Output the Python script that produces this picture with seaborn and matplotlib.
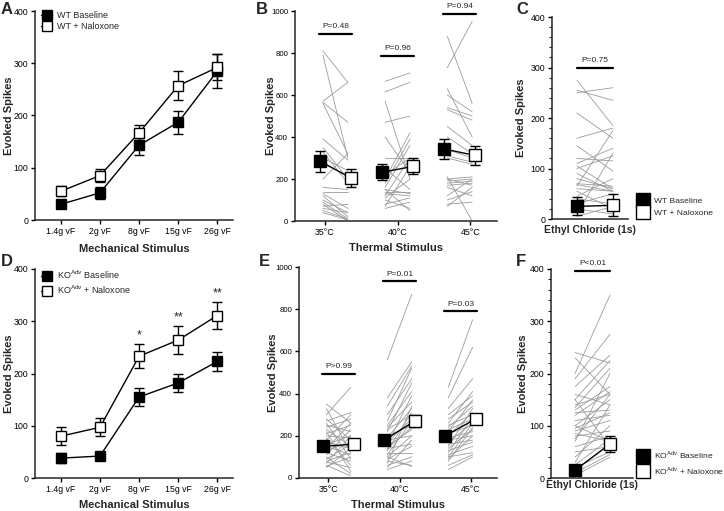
import pandas as pd
import matplotlib
matplotlib.use('Agg')
import matplotlib.pyplot as plt
import seaborn as sns
from matplotlib.lines import Line2D

sns.set_style('ticks')
plt.rcParams['font.family'] = ['Liberation Sans', 'DejaVu Sans']

# ---- mechanical (A, D)
mech_labels = ['1.4g vF', '2g vF', '8g vF', '15g vF', '26g vF']
wt_mech_base = [30, 52, 143, 187, 285]
wt_mech_base_sem = [7, 12, 18, 22, 32]
wt_mech_nal = [55, 85, 167, 257, 292]
wt_mech_nal_sem = [10, 13, 14, 28, 25]
ko_mech_base = [38, 42, 155, 182, 223]
ko_mech_base_sem = [9, 6, 17, 17, 18]
ko_mech_nal = [80, 97, 233, 264, 311]
ko_mech_nal_sem = [17, 17, 23, 26, 25]
ko_stars = ['', '', '*', '**', '**']
ko_star_y = [0, 0, 262, 296, 341]

# ---- thermal (B, E)
temps = ['35°C', '40°C', '45°C']
wt_th_base = [285, 232, 343]
wt_th_base_sem = [50, 38, 48]
wt_th_nal = [205, 260, 312]
wt_th_nal_sem = [42, 38, 43]
wt_th_p = ['P=0.48', 'P=0.96', 'P=0.94']
wt_th_p_y = [890, 785, 985]
ko_th_base = [150, 180, 200]
ko_th_base_sem = [18, 15, 15]
ko_th_nal = [160, 270, 280]
ko_th_nal_sem = [20, 28, 25]
ko_th_p = ['P>0.99', 'P=0.01', 'P=0.03']
ko_th_p_y = [495, 932, 790]

# individual cells, baseline -> naloxone
wt35_b = [810, 570, 565, 560, 790, 390, 350, 330, 300, 200, 160, 140, 130, 120, 100, 90, 80, 70, 60, 50, 40]
wt35_n = [660, 660, 470, 320, 300, 290, 200, 180, 240, 320, 150, 140, 60, 20, 40, 10, 0, 80, 40, 10, 5]
wt40_b = [665, 615, 470, 570, 400, 300, 250, 200, 180, 160, 150, 140, 130, 120, 110, 100, 80, 70, 60, 150, 220]
wt40_n = [705, 660, 500, 200, 230, 300, 150, 420, 390, 360, 130, 140, 120, 300, 200, 60, 110, 260, 90, 50, 300]
wt45_b = [880, 730, 630, 600, 540, 530, 450, 400, 340, 310, 300, 200, 190, 180, 200, 170, 160, 120, 100, 80, 210, 70]
wt45_n = [560, 950, 400, 520, 500, 480, 360, 320, 300, 280, 270, 210, 200, 190, 170, 180, 120, 200, 140, 90, 0, 160]
ko35_b = [350, 330, 300, 280, 270, 260, 250, 240, 230, 220, 210, 200, 190, 180, 170, 160, 150, 140, 130, 120, 110, 100, 90, 80, 75, 70, 60, 55, 50]
ko35_n = [260, 120, 430, 180, 310, 90, 220, 280, 150, 30, 250, 190, 60, 300, 140, 200, 110, 260, 170, 80, 230, 20, 160, 120, 50, 200, 10, 100, 140]
ko40_b = [560, 380, 340, 300, 270, 250, 240, 230, 220, 200, 190, 180, 170, 160, 150, 140, 130, 120, 110, 100, 90, 80, 70, 60, 50, 40, 100, 140]
ko40_n = [870, 550, 530, 470, 520, 410, 360, 300, 450, 250, 330, 200, 280, 390, 230, 160, 310, 120, 270, 200, 150, 60, 340, 100, 180, 80, 55, 240]
ko45_b = [430, 380, 330, 300, 280, 260, 250, 240, 230, 220, 210, 200, 190, 180, 170, 160, 150, 140, 130, 120, 110, 100, 90, 80, 60, 40, 100]
ko45_n = [750, 620, 470, 390, 360, 410, 300, 340, 280, 370, 250, 310, 220, 200, 260, 180, 330, 230, 170, 290, 150, 120, 200, 240, 110, 100, 260]

# ---- ethyl chloride (C, F)
wt_ec_b = [275, 255, 250, 210, 160, 145, 120, 110, 105, 100, 90, 80, 70, 68, 65, 60, 55, 45, 40, 30, 20, 10, 5]
wt_ec_n = [185, 235, 260, 160, 180, 95, 115, 140, 60, 125, 55, 60, 65, 55, 175, 55, 20, 80, 30, 50, 10, 130, 25]
wt_ec_mean = [25, 27]
wt_ec_sem = [18, 22]
ko_ec_b = [240, 230, 200, 190, 175, 160, 150, 140, 135, 130, 125, 120, 110, 100, 95, 90, 85, 80, 75, 70, 60, 50, 40, 30, 25, 20, 10, 5, 100, 150]
ko_ec_n = [220, 160, 350, 275, 235, 140, 225, 160, 210, 175, 130, 165, 120, 150, 125, 110, 70, 90, 160, 200, 80, 60, 100, 140, 75, 50, 45, 40, 70, 60]
ko_ec_mean = [15, 65]
ko_ec_sem = [10, 15]

W, H = 724, 511
fig = plt.figure(figsize=(W / 100, H / 100), dpi=100)


def px_axes(x0, y0, x1, y1):
    ax = fig.add_axes([x0 / W, 1 - y1 / H, (x1 - x0) / W, (y1 - y0) / H])
    ax.px = (x0, y0, x1, y1)
    return ax


def style(ax, ylab_x, tick_size=6.3):
    sns.despine(ax=ax)
    for s in ['left', 'bottom']:
        ax.spines[s].set_linewidth(1.1)
    ax.tick_params(axis='both', labelsize=tick_size, width=1.0, length=3, colors='black', pad=2)
    ax.set_ylabel('Evoked Spikes', fontsize=8, fontweight='bold')
    x0, y0, x1, y1 = ax.px
    ax.yaxis.set_label_coords((ylab_x - x0) / (x1 - x0), 0.5)
    ax.yaxis.label.set_va('center')


def xlab(ax, txt, y_px, size=8):
    ax.set_xlabel(txt, fontsize=size, fontweight='bold')
    x0, y0, x1, y1 = ax.px
    ax.xaxis.set_label_coords(0.5, -(y_px - y1) / (y1 - y0))
    ax.xaxis.label.set_va('center')


def means(ax, x, y, e, filled, ms=7.5):
    ax.errorbar(x, y, yerr=e, fmt='s', ms=ms, mfc='black' if filled else 'white',
                mec='black', mew=1.0, ecolor='black', elinewidth=1.0, capsize=3.5,
                capthick=1.0, zorder=5)


def pairs(ax, b, n, x0, x1):
    df = pd.DataFrame({'unit': list(range(len(b))) * 2,
                       'x': [x0] * len(b) + [x1] * len(n),
                       'y': list(b) + list(n)})
    sns.lineplot(data=df, x='x', y='y', units='unit', estimator=None, color='#9b9b9b',
                 lw=0.6, ax=ax, legend=False, zorder=1)


def pbar(ax, xc, y, txt, half=0.27):
    ax.plot([xc - half, xc + half], [y, y], color='black', lw=1.6, zorder=6,
            clip_on=False)
    ax.text(xc, y + ax.get_ylim()[1] * 0.018, txt, ha='center', va='bottom', fontsize=6)


# ---- A / D
def mech_panel(ax, base, bsem, nal, nsem, labels, xlab_y):
    xs = list(range(len(mech_labels)))
    dfm = pd.DataFrame({'x': xs * 2, 'y': base + nal, 'g': ['b'] * 5 + ['n'] * 5})
    sns.lineplot(data=dfm, x='x', y='y', units='g', estimator=None, color='black', lw=1.0,
                 ax=ax, legend=False, zorder=3)
    means(ax, xs, base, bsem, True, ms=7)
    means(ax, xs, nal, nsem, False, ms=7)
    ax.set_xlim(-0.66, 4.4)
    ax.set_ylim(0, 400)
    ax.set_yticks([0, 100, 200, 300, 400])
    ax.set_xticks(xs)
    ax.set_xticklabels(mech_labels)
    style(ax, 9)
    xlab(ax, 'Mechanical Stimulus', xlab_y)
    h = [Line2D([], [], color='black', lw=1, marker='s', ms=6.5, mfc='black', mec='black'),
         Line2D([], [], color='black', lw=1, marker='s', ms=6.5, mfc='white', mec='black')]
    ax.legend(h, labels, loc='upper left', bbox_to_anchor=(0.0, 1.03), frameon=False,
              fontsize=6.5, handlelength=1.2, handletextpad=0.5, labelspacing=0.25, borderpad=0.2)


axA = px_axes(35, 11, 233, 220)
mech_panel(axA, wt_mech_base, wt_mech_base_sem, wt_mech_nal, wt_mech_nal_sem,
           ['WT Baseline', 'WT + Naloxone'], 249)
axD = px_axes(35, 269, 233, 478)
mech_panel(axD, ko_mech_base, ko_mech_base_sem, ko_mech_nal, ko_mech_nal_sem,
           [r'KO$^{\mathregular{Adv}}$ Baseline', r'KO$^{\mathregular{Adv}}$ + Naloxone'], 505)
for i, s in enumerate(ko_stars):
    if s:
        axD.text(i, ko_star_y[i], s, ha='center', va='bottom', fontsize=9)


# ---- B / E
def therm_panel(ax, cells, base, bsem, nal, nsem, ptxt, py, ylab_x, xlab_y):
    for g, (b, n) in enumerate(cells):
        pairs(ax, b, n, g - 0.2, g + 0.2)
    for g in range(3):
        ax.plot([g - 0.25, g + 0.25], [base[g], nal[g]], color='black', lw=1.0, zorder=4)
    gx = [0, 1, 2]
    means(ax, [g - 0.25 for g in gx], base, bsem, True, ms=8.5)
    means(ax, [g + 0.25 for g in gx], nal, nsem, False, ms=8.5)
    ax.set_xlim(-0.65, 2.6)
    ax.set_ylim(0, 1000)
    ax.set_yticks(range(0, 1001, 200))
    ax.set_xticks([-0.17, 1.0, 2.17])
    ax.set_xticklabels(temps)
    style(ax, ylab_x, tick_size=5.6)
    ax.tick_params(axis='x', labelsize=6.3)
    xlab(ax, 'Thermal Stimulus', xlab_y)
    for g in range(3):
        pbar(ax, g, py[g], ptxt[g])


axB = px_axes(295, 11, 497, 221)
therm_panel(axB, [(wt35_b, wt35_n), (wt40_b, wt40_n), (wt45_b, wt45_n)],
            wt_th_base, wt_th_base_sem, wt_th_nal, wt_th_nal_sem, wt_th_p, wt_th_p_y, 271, 248)
axE = px_axes(299, 267, 497, 478)
therm_panel(axE, [(ko35_b, ko35_n), (ko40_b, ko40_n), (ko45_b, ko45_n)],
            ko_th_base, ko_th_base_sem, ko_th_nal, ko_th_nal_sem, ko_th_p, ko_th_p_y, 273, 505)


# ---- C / F
def ec_panel(ax, b, n, m, e, ptxt, py, xlim, labels, leg_y, ylab_x, xlab_y):
    pairs(ax, b, n, 0, 1)
    ax.plot([0, 1], m, color='black', lw=1.0, zorder=4)
    means(ax, [0], [m[0]], [e[0]], True, ms=9)
    means(ax, [1], [m[1]], [e[1]], False, ms=9)
    ax.set_xlim(*xlim)
    ax.set_ylim(0, 400)
    ax.set_yticks([0, 100, 200, 300, 400])
    ax.set_yticks(range(0, 401, 20), minor=True)
    ax.tick_params(axis='y', which='minor', length=2, width=0.8)
    ax.set_xticks([])
    style(ax, ylab_x)
    xlab(ax, 'Ethyl Chloride (1s)', xlab_y, size=7.5)
    pbar(ax, 0.5, py, ptxt, half=0.5)
    h = [Line2D([], [], color='black', lw=1, marker='s', ms=10, mfc='black', mec='black'),
         Line2D([], [], color='black', lw=1, marker='s', ms=10, mfc='white', mec='black')]
    fig.legend(h, labels, loc='center left', bbox_to_anchor=(635 / W, 1 - leg_y / H),
               frameon=False, fontsize=6.1, handlelength=1.0, handletextpad=0.8,
               labelspacing=0.45, borderpad=0)


axC = px_axes(552, 17, 628, 219)
ec_panel(axC, wt_ec_b, wt_ec_n, wt_ec_mean, wt_ec_sem, 'P=0.75', 300, (-0.69, 1.42),
         ['WT Baseline', 'WT + Naloxone'], 207, 521, 230)
axF = px_axes(551, 269, 633, 478)
ec_panel(axF, ko_ec_b, ko_ec_n, ko_ec_mean, ko_ec_sem, 'P<0.01', 397, (-0.69, 1.66),
         [r'KO$^{\mathregular{Adv}}$ Baseline', r'KO$^{\mathregular{Adv}}$ + Naloxone'], 463,
         523, 485)

for lab, x, y in [('A', 1, 9), ('B', 256, 9), ('C', 516, 9),
                  ('D', 1, 261), ('E', 259, 261), ('F', 516, 261)]:
    fig.text(x / W, 1 - y / H, lab, fontsize=12, fontweight='bold', va='center', ha='left')

fig.savefig('out.png', dpi=100)
